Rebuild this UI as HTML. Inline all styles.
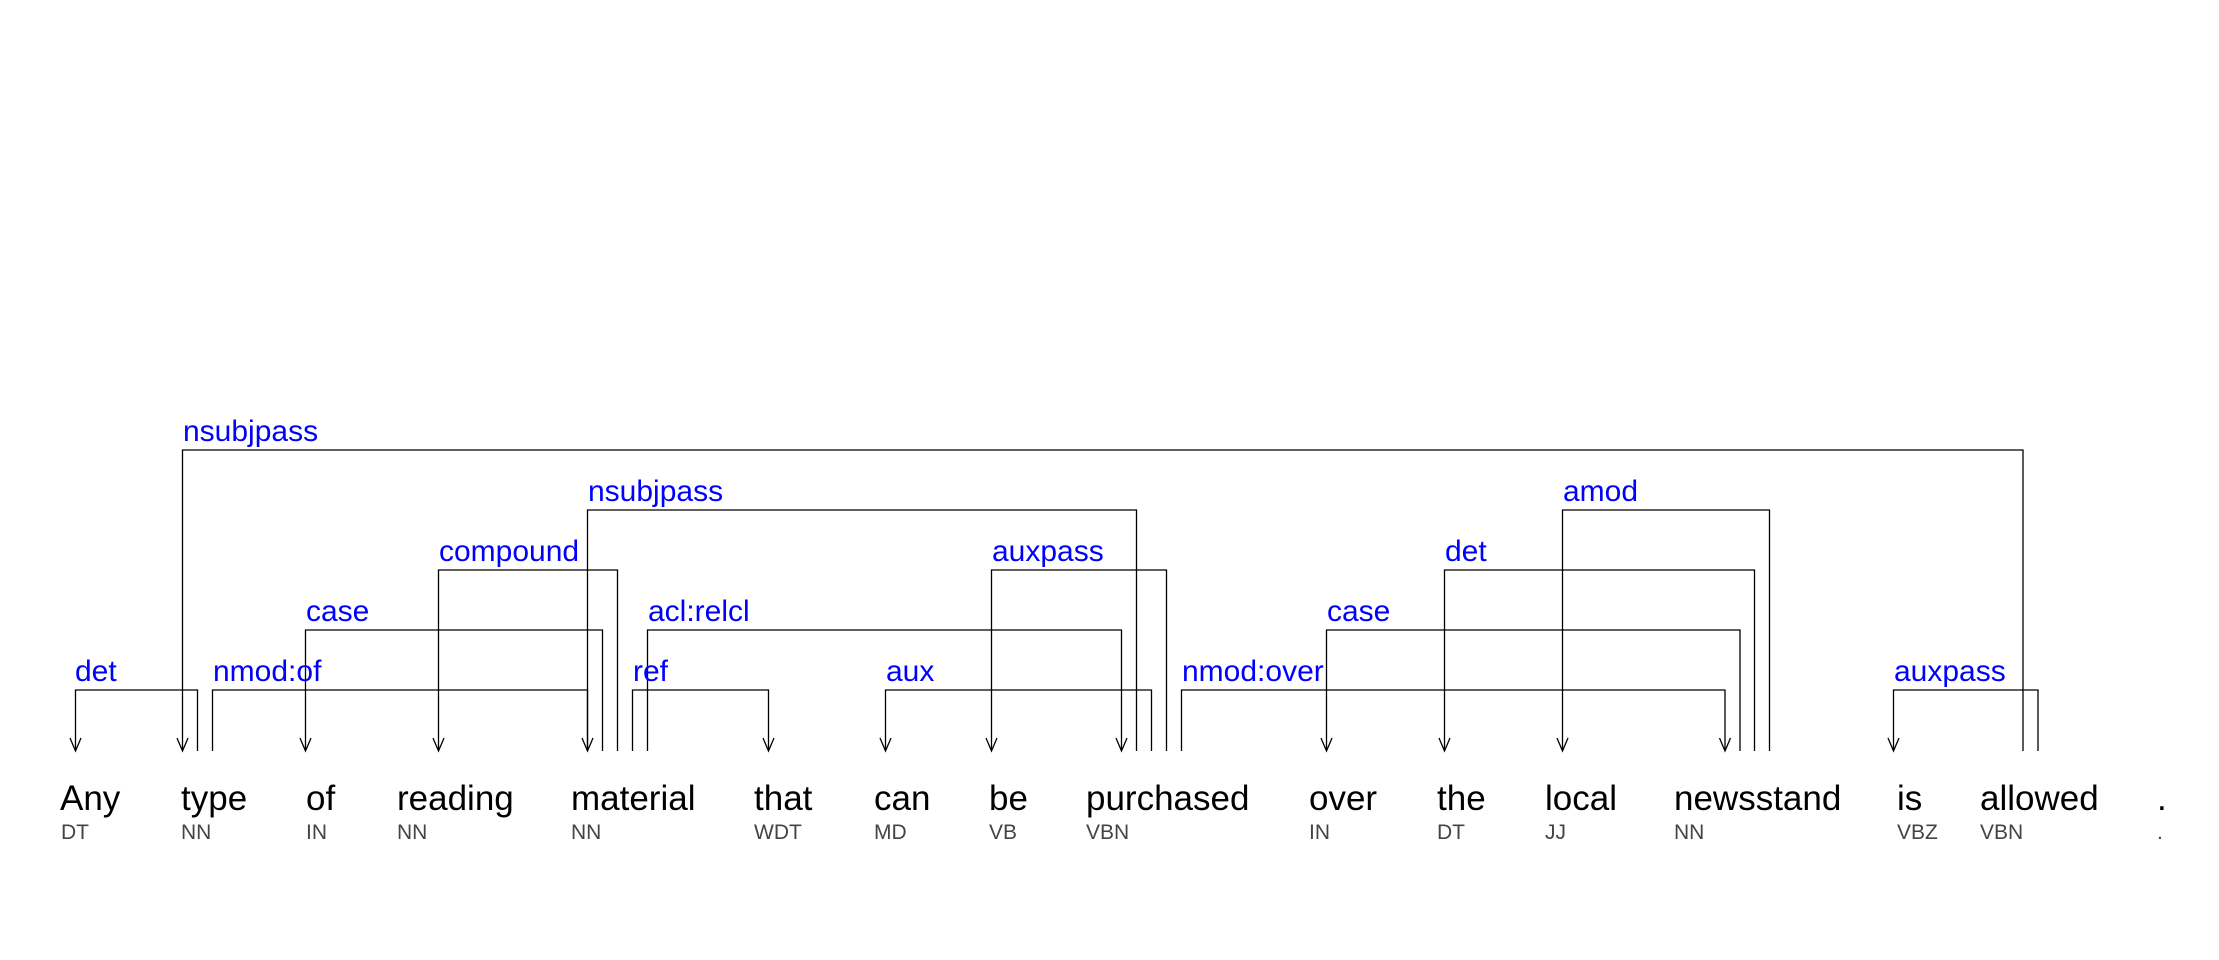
<!DOCTYPE html>
<html><head><meta charset="utf-8"><style>
html,body{margin:0;padding:0;background:#fff;}
svg{display:block;}
.w{font-family:"Liberation Sans",Arial,sans-serif;font-size:35px;fill:#000;}
.p{font-family:"Liberation Sans",Arial,sans-serif;font-size:21px;fill:#444;}
.l{font-family:"Liberation Sans",Arial,sans-serif;font-size:30px;fill:#0000ff;}
</style></head><body>
<svg width="2219" height="960" viewBox="0 0 2219 960" xmlns="http://www.w3.org/2000/svg">
<g fill="none" stroke="#000" stroke-width="1.3" id="edges"></g>
<g id="txt">
<text class="w" x="60" y="810">Any</text><text class="p" x="61" y="839">DT</text>
<text class="w" x="181" y="810">type</text><text class="p" x="181" y="839">NN</text>
<text class="w" x="306" y="810">of</text><text class="p" x="306" y="839">IN</text>
<text class="w" x="397" y="810">reading</text><text class="p" x="397" y="839">NN</text>
<text class="w" x="571" y="810">material</text><text class="p" x="571" y="839">NN</text>
<text class="w" x="754" y="810">that</text><text class="p" x="754" y="839">WDT</text>
<text class="w" x="874" y="810">can</text><text class="p" x="874" y="839">MD</text>
<text class="w" x="989" y="810">be</text><text class="p" x="989" y="839">VB</text>
<text class="w" x="1086" y="810">purchased</text><text class="p" x="1086" y="839">VBN</text>
<text class="w" x="1309" y="810">over</text><text class="p" x="1309" y="839">IN</text>
<text class="w" x="1437" y="810">the</text><text class="p" x="1437" y="839">DT</text>
<text class="w" x="1545" y="810">local</text><text class="p" x="1545" y="839">JJ</text>
<text class="w" x="1674" y="810">newsstand</text><text class="p" x="1674" y="839">NN</text>
<text class="w" x="1897" y="810">is</text><text class="p" x="1897" y="839">VBZ</text>
<text class="w" x="1980" y="810">allowed</text><text class="p" x="1980" y="839">VBN</text>
<text class="w" x="2157" y="810">.</text><text class="p" x="2157" y="839">.</text>
</g>
<g fill="none" stroke="#000" stroke-width="1.3">
<!-- det -->
<path d="M75.5 751V690H197.5V751"/><path d="M70 738L75.5 751L81 738"/>
<!-- nsubjpass top -->
<path d="M182.5 751V450H2023V751"/><path d="M177 738L182.5 751L188 738"/>
<!-- nmod:of -->
<path d="M212.5 751V690H587.5V751"/><path d="M582 738L587.5 751L593 738"/>
<!-- case -->
<path d="M305.5 751V630H602.5V751"/><path d="M300 738L305.5 751L311 738"/>
<!-- compound -->
<path d="M438.5 751V570H617.5V751"/><path d="M433 738L438.5 751L444 738"/>
<!-- nsubjpass2 -->
<path d="M587.5 751V510H1136.5V751"/>
<!-- ref -->
<path d="M632.5 751V690H768.5V751"/><path d="M763 738L768.5 751L774 738"/>
<!-- acl:relcl -->
<path d="M647.5 751V630H1121.5V751"/><path d="M1116 738L1121.5 751L1127 738"/>
<!-- aux -->
<path d="M885.5 751V690H1151.5V751"/><path d="M880 738L885.5 751L891 738"/>
<!-- auxpass -->
<path d="M991.5 751V570H1166.5V751"/><path d="M986 738L991.5 751L997 738"/>
<!-- nmod:over -->
<path d="M1181.5 751V690H1725V751"/><path d="M1719.5 738L1725 751L1730.5 738"/>
<!-- case2 -->
<path d="M1326.5 751V630H1740V751"/><path d="M1321 738L1326.5 751L1332 738"/>
<!-- det2 -->
<path d="M1444.5 751V570H1754.5V751"/><path d="M1439 738L1444.5 751L1450 738"/>
<!-- amod -->
<path d="M1562.5 751V510H1769.5V751"/><path d="M1557 738L1562.5 751L1568 738"/>
<!-- auxpass2 -->
<path d="M1893.5 751V690H2038V751"/><path d="M1888 738L1893.5 751L1899 738"/>
</g>
<g>
<text class="l" x="75" y="681">det</text>
<text class="l" x="183" y="441">nsubjpass</text>
<text class="l" x="213" y="681">nmod:of</text>
<text class="l" x="306" y="621">case</text>
<text class="l" x="439" y="561">compound</text>
<text class="l" x="588" y="501">nsubjpass</text>
<text class="l" x="633" y="681">ref</text>
<text class="l" x="648" y="621">acl:relcl</text>
<text class="l" x="886" y="681">aux</text>
<text class="l" x="992" y="561">auxpass</text>
<text class="l" x="1182" y="681">nmod:over</text>
<text class="l" x="1327" y="621">case</text>
<text class="l" x="1445" y="561">det</text>
<text class="l" x="1563" y="501">amod</text>
<text class="l" x="1894" y="681">auxpass</text>
</g>
</svg>
</body></html>
